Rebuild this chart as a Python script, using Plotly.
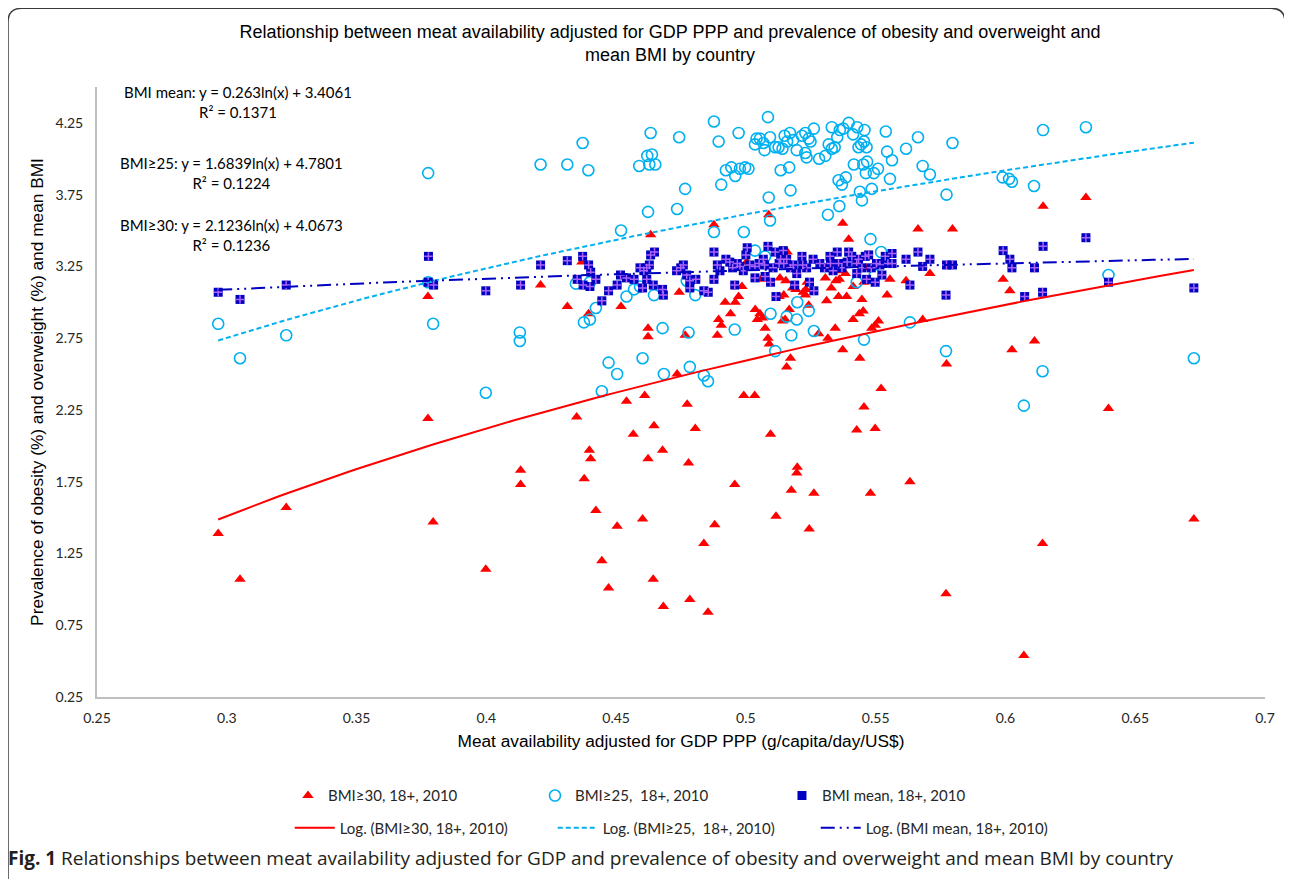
import numpy as np
import plotly.graph_objects as go

# ---------------- data ----------------
obese_x = [0.2967, 0.3051, 0.3229, 0.3775, 0.3775, 0.3795, 0.3998,
           0.4209, 0.4312, 0.4368, 0.4394, 0.4519, 0.4540, 0.4348, 0.4566, 0.4397, 0.4402, 0.4132, 0.4132,
           0.4377, 0.4422, 0.4504, 0.4445, 0.4471,
           0.4877, 0.4633, 0.4743, 0.4920, 0.4941, 0.4959, 0.4972, 0.4985, 0.4895, 0.4905, 0.4890, 0.5036,
           0.5044, 0.5059, 0.4623, 0.4623, 0.4766, 0.5003, 0.4735, 0.4610, 0.4774, 0.4992, 0.5034, 0.4646,
           0.4805, 0.4679, 0.4623, 0.4779, 0.4957, 0.4602, 0.4880, 0.4838, 0.4643, 0.4784, 0.4682, 0.4854,
           0.5373, 0.5396, 0.5088, 0.5131, 0.5154, 0.5159, 0.5180, 0.5193, 0.5221, 0.5231, 0.5236, 0.5229,
           0.5242, 0.5146, 0.5128, 0.5306, 0.5329, 0.5347, 0.5360, 0.5362, 0.5383, 0.5413, 0.5357, 0.5388,
           0.5311, 0.5447, 0.5452, 0.5437, 0.5413, 0.5462, 0.5455, 0.5054, 0.5064, 0.5074, 0.5085, 0.5090,
           0.5167, 0.5151, 0.5141, 0.5280, 0.5316, 0.5344, 0.5485, 0.5498, 0.5511, 0.5172, 0.5157, 0.5373,
           0.5439, 0.5455, 0.5427, 0.5498, 0.5095, 0.5198, 0.5196, 0.5175, 0.5262, 0.5480, 0.5116, 0.5244,
           0.6145, 0.6310, 0.5663, 0.5796, 0.5555, 0.5617, 0.5709, 0.5544, 0.5991, 0.6017, 0.5681, 0.6112,
           0.6025, 0.5773, 0.5521, 0.6397, 0.5632, 0.6726, 0.6143, 0.5771, 0.6071]
obese_y = [1.39, 1.07, 1.57, 3.04, 2.19, 1.47, 1.14,
           3.12, 2.97, 3.28, 2.92, 2.97, 2.31, 2.20, 2.08, 1.97, 1.91, 1.83, 1.73,
           1.77, 1.55, 1.44, 1.20, 1.01,
           3.54, 3.47, 3.07, 3.00, 2.92, 3.00, 3.04, 3.11, 2.88, 2.84, 2.77, 2.95,
           2.88, 3.16, 2.82, 2.76, 2.77, 3.28, 2.50, 2.35, 2.29, 2.35, 2.35, 2.14,
           2.12, 1.97, 1.91, 1.88, 1.73, 1.49, 1.45, 1.32, 1.07, 0.93, 0.88, 0.84,
           3.55, 3.44, 3.61, 3.17, 3.15, 3.35, 3.10, 3.09, 3.07, 3.09, 3.14, 3.05,
           2.98, 3.05, 3.04, 3.17, 3.10, 3.15, 3.16, 3.22, 3.20, 3.11, 3.04, 3.04,
           3.01, 3.02, 2.94, 2.92, 2.88, 3.24, 3.14, 2.92, 2.89, 2.82, 2.75, 2.71,
           2.95, 2.88, 2.87, 2.78, 2.75, 2.82, 2.82, 2.84, 2.87, 2.61, 2.55, 2.67,
           2.61, 2.27, 2.11, 2.12, 2.08, 1.85, 1.81, 1.69, 1.67, 1.67, 1.51, 1.42,
           3.67, 3.73, 3.51, 3.51, 3.16, 3.15, 3.20, 3.05, 3.16, 3.08, 2.88, 2.73,
           2.67, 2.57, 2.40, 2.26, 1.75, 1.49, 1.32, 0.97, 0.54]

over_x = [0.2967, 0.3051, 0.3229, 0.3776, 0.3776, 0.3795, 0.3998,
          0.4371, 0.4209, 0.4312, 0.4393, 0.4589, 0.4519, 0.4129, 0.4129, 0.4345, 0.4399, 0.4422, 0.4376,
          0.4399, 0.4540, 0.4569, 0.4471, 0.4504, 0.4445,
          0.4877, 0.4633, 0.4743, 0.4895, 0.4972, 0.5041, 0.5035, 0.4620, 0.4638, 0.4651, 0.4628, 0.4923,
          0.4944, 0.4959, 0.4977, 0.4997, 0.5010, 0.4766, 0.4905, 0.4623, 0.4735, 0.4877, 0.4992, 0.5035,
          0.4646, 0.4805, 0.4772, 0.4592, 0.4679, 0.4779, 0.4957, 0.4602, 0.4684, 0.4784, 0.4838, 0.4854,
          0.5085, 0.5054, 0.5067, 0.5093, 0.5072, 0.5113, 0.5126, 0.5141, 0.5149, 0.5159, 0.5170, 0.5182,
          0.5196, 0.5216, 0.5229, 0.5242, 0.5249, 0.5229, 0.5234, 0.5262, 0.5282, 0.5306, 0.5319, 0.5331,
          0.5331, 0.5342, 0.5352, 0.5362, 0.5375, 0.5396, 0.5413, 0.5429, 0.5434, 0.5444, 0.5457, 0.5465,
          0.5455, 0.5416, 0.5452, 0.5462, 0.5467, 0.5493, 0.5509, 0.5134, 0.5167, 0.5357, 0.5370, 0.5385,
          0.5088, 0.5172, 0.5439, 0.5485, 0.5447, 0.5093, 0.5316, 0.5360, 0.5480, 0.5074, 0.5198, 0.5242,
          0.5427, 0.5497, 0.5095, 0.5157, 0.5196, 0.5262, 0.5175, 0.5113, 0.5455,
          0.5539, 0.5663, 0.5796, 0.6145, 0.6310, 0.5544, 0.5563, 0.5617, 0.5555, 0.5681, 0.5709, 0.5773,
          0.5989, 0.6014, 0.6025, 0.6110, 0.5521, 0.6397, 0.5632, 0.5771, 0.6143, 0.6726, 0.6071]
over_y = [2.85, 2.61, 2.77, 3.90, 3.14, 2.85, 2.37,
          4.11, 3.96, 3.96, 3.92, 3.95, 3.50, 2.79, 2.73, 3.13, 3.14, 2.96, 2.86,
          2.88, 3.04, 3.09, 2.58, 2.50, 2.38,
          4.26, 4.18, 4.15, 4.12, 4.18, 4.14, 4.10, 4.02, 4.03, 3.96, 3.96, 3.92,
          3.94, 3.88, 3.93, 3.94, 3.93, 3.79, 3.82, 3.63, 3.65, 3.49, 3.49, 3.36,
          3.05, 3.05, 3.15, 3.11, 2.82, 2.79, 2.81, 2.61, 2.50, 2.55, 2.49, 2.45,
          4.29, 4.14, 4.11, 4.15, 4.06, 4.08, 4.08, 4.07, 4.16, 4.12, 4.18, 4.13,
          4.06, 4.16, 4.18, 4.14, 4.12, 4.04, 4.01, 4.21, 4.00, 4.02, 4.10, 4.22,
          4.07, 4.08, 4.15, 4.20, 4.21, 4.25, 4.17, 4.22, 4.08, 4.10, 4.20, 4.08,
          4.12, 3.96, 3.96, 3.90, 3.98, 3.90, 3.93, 3.92, 3.94, 3.85, 3.82, 3.87,
          3.73, 3.78, 3.77, 3.79, 3.71, 3.57, 3.61, 3.67, 3.44, 3.32, 3.00, 2.94,
          3.14, 3.19, 2.92, 2.90, 2.88, 2.80, 2.77, 2.66, 2.74,
          4.19, 4.15, 4.11, 4.20, 4.22, 4.05, 3.99, 4.07, 3.86, 3.95, 3.89, 3.75,
          3.87, 3.86, 3.84, 3.81, 3.35, 3.19, 2.86, 2.66, 2.52, 2.61, 2.28]

bmi_x = [0.2967, 0.3051, 0.3229, 0.3777, 0.3776, 0.3797, 0.3998,
         0.4132, 0.4209, 0.4312, 0.4371, 0.4394, 0.4402, 0.4422, 0.4350, 0.4373, 0.4399, 0.4471, 0.4445,
         0.4504, 0.4517, 0.4540, 0.4569,
         0.4648, 0.4633, 0.4628, 0.4618, 0.4607, 0.4592, 0.4618, 0.4643, 0.4602, 0.4679, 0.4682, 0.4733,
         0.4759, 0.4749, 0.4772, 0.4784, 0.4807, 0.4784, 0.4838, 0.4855, 0.4877, 0.4877, 0.4890, 0.4900,
         0.4923, 0.4938, 0.4949, 0.4967, 0.4977, 0.4990, 0.5005, 0.5000, 0.5015, 0.5035, 0.5051, 0.4957,
         0.5035,
         0.5085, 0.5113, 0.5144, 0.5067, 0.5072, 0.5105, 0.5128, 0.5134, 0.5157, 0.5172, 0.5074, 0.5095,
         0.5116, 0.5146, 0.5182, 0.5196, 0.5188, 0.5216, 0.5219, 0.5234, 0.5245, 0.5259, 0.5262, 0.5285,
         0.5303, 0.5324, 0.5326, 0.5336, 0.5352, 0.5357, 0.5370, 0.5396, 0.5390, 0.5408, 0.5427, 0.5427,
         0.5434, 0.5447, 0.5460, 0.5465, 0.5473, 0.5483, 0.5498, 0.5503,
         0.5563, 0.5537, 0.5547, 0.5563, 0.5516, 0.5524, 0.5617, 0.5663, 0.5681, 0.5709, 0.5773, 0.5796,
         0.5632, 0.5771, 0.5991, 0.6017, 0.6025, 0.6112, 0.6145, 0.6310, 0.6074, 0.6143, 0.6397, 0.6726]
bmi_y = [3.07, 3.02, 3.12, 3.32, 3.14, 3.12, 3.08,
         3.12, 3.26, 3.29, 3.32, 3.26, 3.21, 3.16, 3.16, 3.12, 3.11, 3.08, 3.01,
         3.12, 3.19, 3.17, 3.16,
         3.35, 3.33, 3.26, 3.24, 3.22, 3.24, 3.16, 3.12, 3.10, 3.09, 3.05, 3.22,
         3.26, 3.24, 3.19, 3.15, 3.16, 3.10, 3.08, 3.07, 3.35, 3.16, 3.26, 3.22,
         3.30, 3.28, 3.24, 3.27, 3.25, 3.22, 3.38, 3.33, 3.26, 3.25, 3.27, 3.12,
         3.17,
         3.39, 3.35, 3.36, 3.30, 3.26, 3.24, 3.27, 3.30, 3.30, 3.24, 3.18, 3.14,
         3.04, 3.27, 3.26, 3.20, 3.12, 3.32, 3.26, 3.24, 3.14, 3.30, 3.08, 3.27,
         3.24, 3.32, 3.27, 3.22, 3.35, 3.27, 3.24, 3.35, 3.28, 3.32, 3.27, 3.20,
         3.30, 3.24, 3.32, 3.16, 3.33, 3.24, 3.14, 3.27,
         3.34, 3.32, 3.27, 3.27, 3.26, 3.19, 3.30, 3.35, 3.25, 3.30, 3.26, 3.26,
         3.12, 3.05, 3.36, 3.30, 3.24, 3.24, 3.39, 3.45, 3.04, 3.07, 3.14, 3.10]

# logarithmic trendline coefficients printed on the chart: y = a ln(x) + b
fit_obese = (2.1236, 4.0673)
fit_over = (1.6839, 4.7801)
fit_mean = (0.263, 3.4061)

x_tick_vals = [0.25, 0.3, 0.35, 0.4, 0.45, 0.5, 0.55, 0.6, 0.65, 0.7]
x_tick_text = ["0.25", "0.3", "0.35", "0.4", "0.45", "0.5", "0.55", "0.6", "0.65", "0.7"]
y_tick_vals = [0.25, 0.75, 1.25, 1.75, 2.25, 2.75, 3.25, 3.75, 4.25]
y_tick_text = ["0.25", "0.75", "1.25", "1.75", "2.25", "2.75", "3.25", "3.75", "4.25"]

# ---------------- figure ----------------
RED = "#FF0000"
CYAN = "#00B0F0"
BLUE = "#0000C0"
TICKFONT = dict(family="Lato", size=14, color="#262626")


def trend(xs, coef):
    xx = np.linspace(min(xs), max(xs), 120)
    return xx, coef[0] * np.log(xx) + coef[1]


fig = go.Figure()

fig.add_trace(go.Scatter(x=obese_x, y=obese_y, mode="markers", name="BMI≥30, 18+, 2010",
                         marker=dict(symbol="triangle-up", size=10, color=RED, line=dict(width=0)),
                         legend="legend"))
fig.add_trace(go.Scatter(x=over_x, y=over_y, mode="markers", name="BMI≥25,  18+, 2010",
                         marker=dict(symbol="circle-open", size=11, color=CYAN, line=dict(width=1.6)),
                         legend="legend"))
fig.add_trace(go.Scatter(x=bmi_x, y=bmi_y, mode="markers", name="BMI mean, 18+, 2010",
                         marker=dict(symbol="square", size=9, color=BLUE, line=dict(width=0)),
                         legend="legend"))
fig.add_trace(go.Scatter(x=bmi_x, y=bmi_y, mode="markers", showlegend=False, hoverinfo="skip",
                         marker=dict(symbol="cross-thin-open", size=6,
                                     line=dict(color="#A6A6A6", width=1.5))))

tx, ty = trend(obese_x, fit_obese)
fig.add_trace(go.Scatter(x=tx, y=ty, mode="lines", name="Log. (BMI≥30, 18+, 2010)",
                         line=dict(color=RED, width=2), legend="legend2"))
tx, ty = trend(over_x, fit_over)
fig.add_trace(go.Scatter(x=tx, y=ty, mode="lines", name="Log. (BMI≥25,  18+, 2010)",
                         line=dict(color=CYAN, width=2, dash="5px,3px"), legend="legend2"))
tx, ty = trend(bmi_x, fit_mean)
fig.add_trace(go.Scatter(x=tx, y=ty, mode="lines", name="Log. (BMI mean, 18+, 2010)",
                         line=dict(color=BLUE, width=2, dash="14px,5px,2px,5px,2px,5px"),
                         legend="legend2"))

eq_font = dict(family="Lato", size=15, color="#000000")
annotations = [
    dict(text="BMI mean: y = 0.263ln(x) + 3.4061<br>R² = 0.1371", x=0.1207, y=0.9759),
    dict(text="BMI≥25: y = 1.6839ln(x) + 4.7801<br>R² = 0.1224", x=0.1152, y=0.8596),
    dict(text="BMI≥30: y = 2.1236ln(x) + 4.0673<br>R² = 0.1236", x=0.1152, y=0.7571),
]
for a in annotations:
    fig.add_annotation(xref="paper", yref="paper", showarrow=False, align="center",
                       xanchor="center", yanchor="middle", font=eq_font, **a)

fig.add_annotation(xref="paper", yref="paper", x=-0.0775, y=-0.2638, xanchor="left", yanchor="middle",
                   showarrow=False, align="left",
                   text="<b>Fig. 1</b> Relationships between meat availability adjusted for GDP and prevalence of obesity and overweight and mean BMI by country",
                   font=dict(family="Open Sans", size=19, color="#231F20"))

# rounded outer frame
L, R, T, B = -0.0762, 1.0171, 1.1291, -0.40
rx, ry = 0.012, 0.023
fig.add_shape(type="path", xref="paper", yref="paper", layer="above",
              path=f"M {L},{B} L {L},{T-ry} Q {L},{T} {L+rx},{T} L {R-rx},{T} Q {R},{T} {R},{T-ry} L {R},{B}",
              line=dict(color="#3A3A3A", width=1.5))

fig.update_layout(
    width=1292, height=879,
    paper_bgcolor="white", plot_bgcolor="white",
    margin=dict(l=89, r=35, t=79, b=190, autoexpand=False),
    title=dict(text="Relationship between meat availability adjusted for GDP PPP and prevalence of obesity and overweight and<br>mean BMI by country",
               xref="container", yref="container", x=0.5124, xanchor="center", y=0.966, yanchor="top",
               font=dict(family="Liberation Sans", size=18, color="#000000")),
    xaxis=dict(range=[0.25, 0.7], tickvals=x_tick_vals, ticktext=x_tick_text, showgrid=False,
               zeroline=False, showline=True, linecolor="#BFBFBF", linewidth=2, ticks="",
               ticklabelstandoff=7, tickfont=TICKFONT,
               title=dict(text="Meat availability adjusted for GDP PPP (g/capita/day/US$)", standoff=10,
                          font=dict(family="Liberation Sans", size=17.3, color="#000000"))),
    yaxis=dict(range=[0.25, 4.5], tickvals=y_tick_vals, ticktext=y_tick_text, showgrid=False,
               zeroline=False, showline=True, linecolor="#BFBFBF", linewidth=2, ticks="",
               ticklabelstandoff=9, tickfont=TICKFONT,
               title=dict(text="Prevalence of obesity (%) and overweight (%) and mean BMI", standoff=7,
                          font=dict(family="Liberation Sans", size=17.3, color="#000000"))),
    legend=dict(orientation="h", x=0.1635, y=-0.162, xanchor="left", yanchor="middle",
                entrywidth=202, entrywidthmode="pixels", bgcolor="rgba(0,0,0,0)",
                font=dict(family="Lato", size=15, color="#262626")),
    legend2=dict(orientation="h", x=0.165, y=-0.2147, xanchor="left", yanchor="middle",
                 entrywidth=208, entrywidthmode="pixels", itemwidth=40, bgcolor="rgba(0,0,0,0)",
                 font=dict(family="Lato", size=15, color="#262626")),
    showlegend=True,
)

fig.write_html("out.html")
